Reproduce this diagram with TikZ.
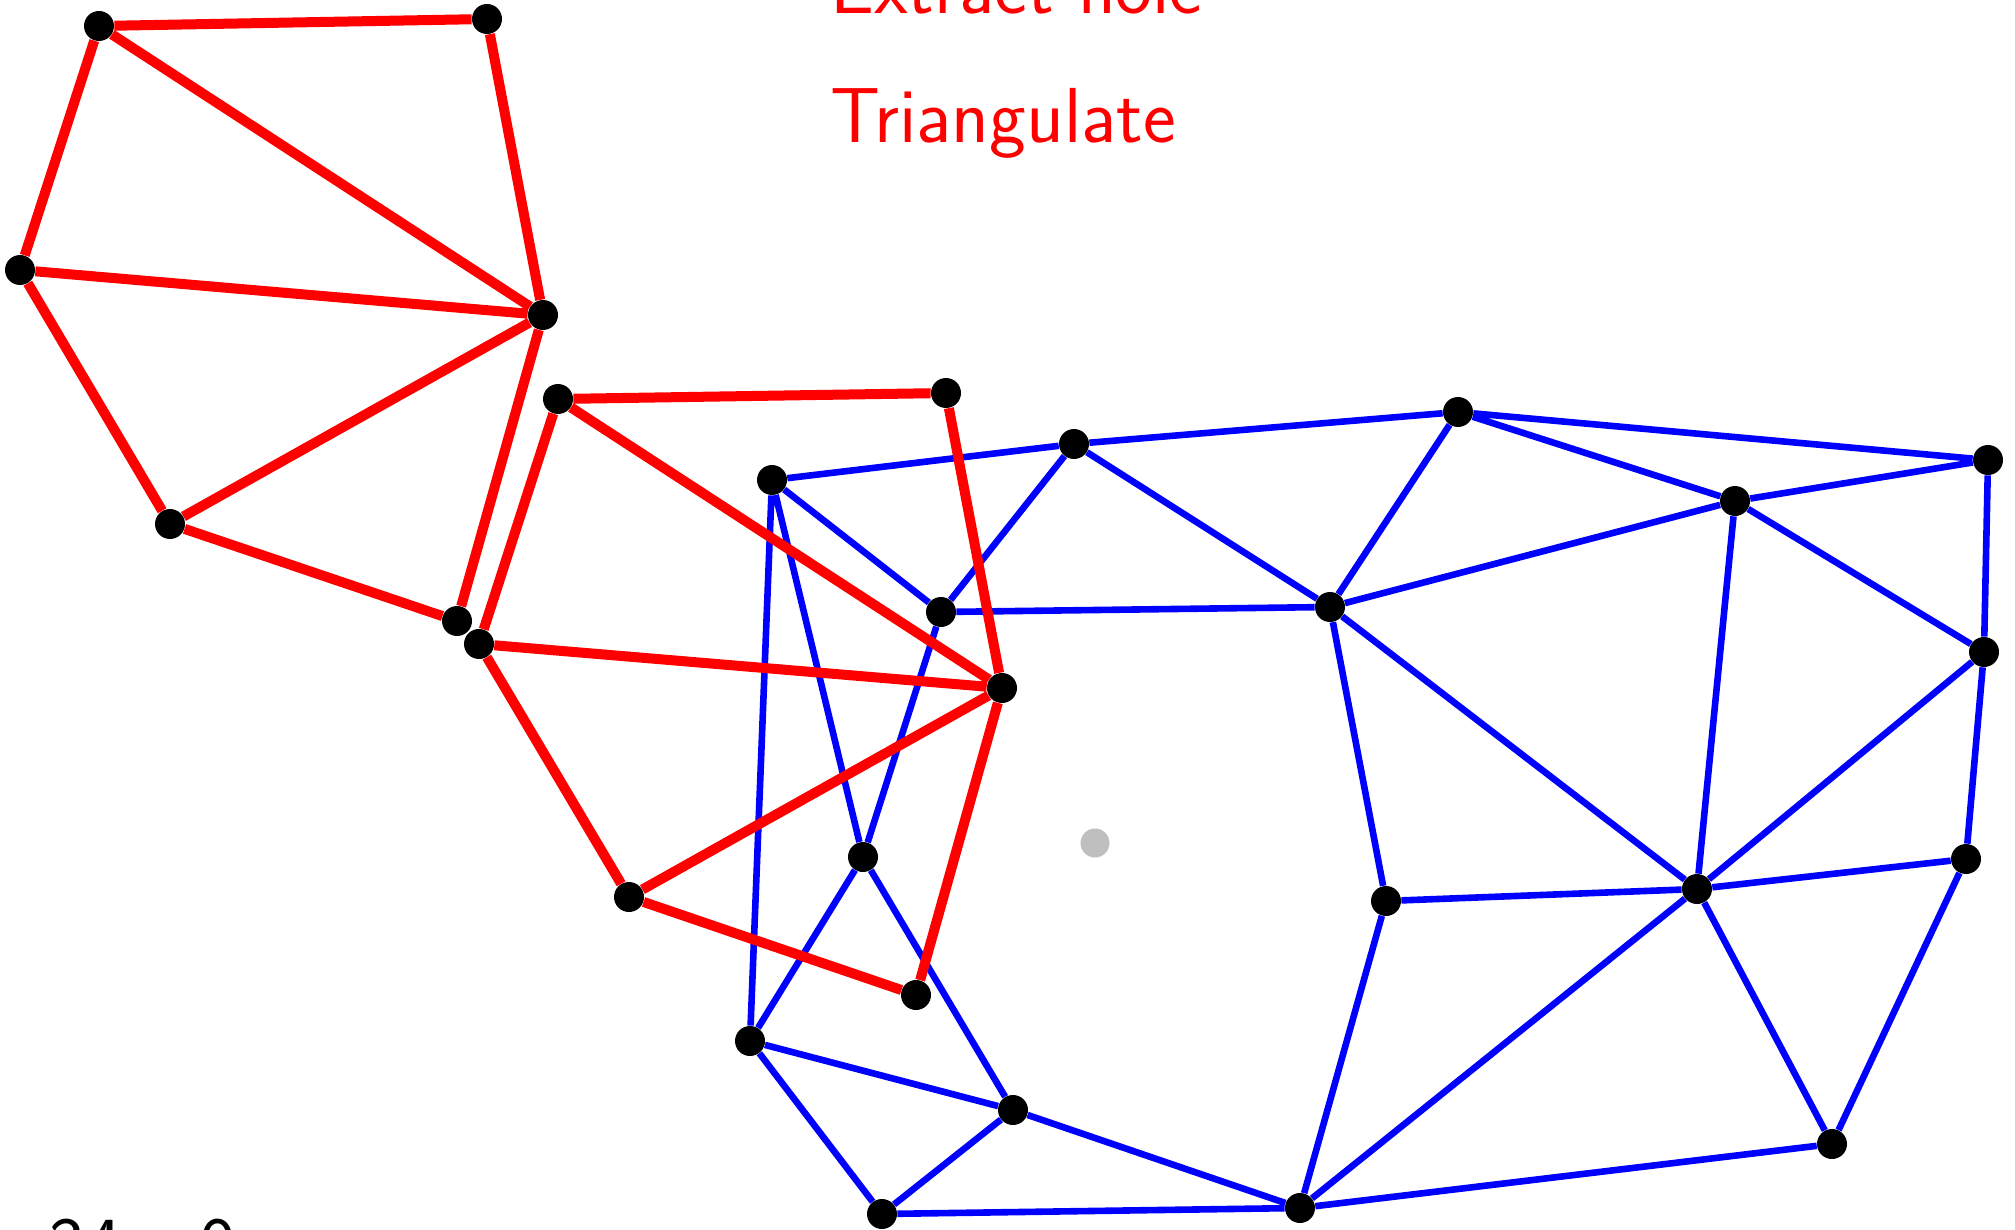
\documentclass[tikz,border=0pt]{standalone}
\usetikzlibrary{backgrounds}
\begin{document}
\begin{tikzpicture}[x=0.5pt,y=-0.5pt,
  dot/.style={circle,fill=black,inner sep=0pt,minimum size=15pt},
  graydot/.style={circle,fill=black!25,inner sep=0pt,minimum size=14.5pt},
  redge/.style={draw=red,line width=5pt},
  bedge/.style={draw=blue,line width=3.3pt},
  lbl/.style={font=\sffamily\fontsize{39}{46}\selectfont,inner sep=0pt,anchor=base west}]
\useasboundingbox (0,0) rectangle (2015,1230);
\clip (0,0) rectangle (2015,1230);
% labels
\node[lbl,text=red] (t1) at (830,14) {Extract hole};
\node[lbl,text=red] (t2) at (830,143) {Triangulate};
\node[lbl,text=black] (t3) at (48,1271) {34 : 0};
% red group 1
\node[dot] (A) at (99,26) {};
\node[dot] (B) at (487,19) {};
\node[dot] (C) at (20,270) {};
\node[dot] (D) at (543,315) {};
\node[dot] (E) at (170,524) {};
\node[dot] (K) at (457,621) {};
% red group 2
\node[dot] (F) at (558,399) {};
\node[dot] (G) at (946,393) {};
\node[dot] (L) at (479,644) {};
\node[dot] (M) at (1002,688) {};
\node[dot] (O) at (629,897) {};
\node[dot] (P) at (916,995) {};
% blue
\node[dot] (H) at (772,480) {};
\node[dot] (I) at (1074,444) {};
\node[dot] (J) at (941,612) {};
\node[dot] (N) at (863,857) {};
\node[dot] (Q) at (750,1041) {};
\node[dot] (R) at (1013,1110) {};
\node[dot] (S) at (882,1214) {};
\node[dot] (T) at (1300,1208) {};
\node[dot] (U1) at (1458,412) {};
\node[dot] (U2) at (1988,460) {};
\node[dot] (U3) at (1735,501) {};
\node[dot] (U4) at (1330,607) {};
\node[dot] (U5) at (1984,652) {};
\node[dot] (U6) at (1966,859) {};
\node[dot] (U7) at (1697,889) {};
\node[dot] (U8) at (1386,901) {};
\node[dot] (V) at (1832,1144) {};
\node[graydot] (X) at (1095,843) {};
\begin{scope}[on background layer]
\path[bedge] (H)--(I) (H)--(J) (H)--(N) (H)--(Q) (I)--(J) (I)--(U1) (I)--(U4)
  (J)--(U4) (J)--(N) (N)--(Q) (N)--(R) (Q)--(R) (Q)--(S) (S)--(R) (R)--(T) (S)--(T)
  (T)--(U8) (T)--(U7) (T)--(V) (U8)--(U4) (U8)--(U7) (U4)--(U1) (U4)--(U3) (U4)--(U7)
  (U1)--(U3) (U1)--(U2) (U3)--(U2) (U3)--(U5) (U3)--(U7) (U2)--(U5) (U5)--(U7)
  (U5)--(U6) (U6)--(U7) (U6)--(V) (U7)--(V);
\path[redge] (A)--(B) (A)--(C) (A)--(D) (B)--(D) (C)--(D) (C)--(E) (E)--(D) (E)--(K) (D)--(K);
\path[redge] (F)--(G) (F)--(M) (G)--(M) (F)--(L) (L)--(M) (L)--(O) (O)--(M) (O)--(P) (M)--(P);
\end{scope}
\end{tikzpicture}
\end{document}
